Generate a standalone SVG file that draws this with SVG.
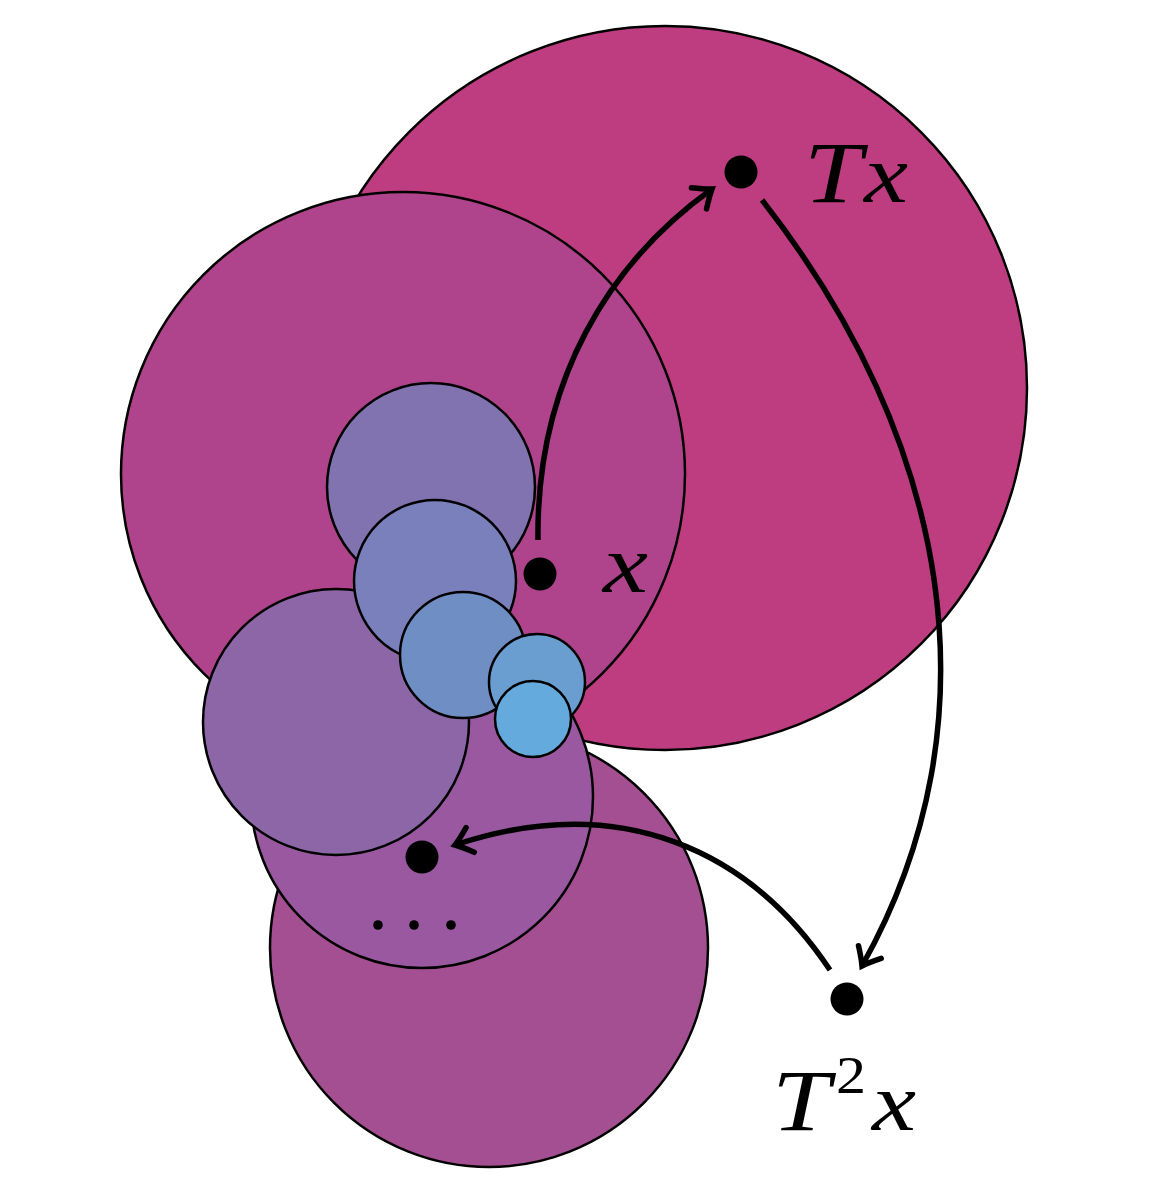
<svg xmlns="http://www.w3.org/2000/svg" width="1166" height="1202" viewBox="0 0 1166 1202">
<style>
.c{stroke:#000;stroke-width:2.5}
.dot{fill:#000}
.arr{fill:none;stroke:#000;stroke-width:5.5;marker-end:url(#ah)}
.lbl{font-family:"Liberation Serif","DejaVu Serif",serif;font-style:italic;fill:#000}
.num{font-family:"Liberation Serif","DejaVu Serif",serif;fill:#000}
</style>
<defs>
<marker id="ah" markerUnits="userSpaceOnUse" orient="auto" markerWidth="40" markerHeight="40" refX="0" refY="0" viewBox="-30 -20 40 40" overflow="visible">
<path d="M-16,-13 Q-6,-4 0,0 Q-6,4 -16,13" fill="none" stroke="#000" stroke-width="5.5" stroke-linecap="round"/>
</marker>
</defs>
<rect width="1166" height="1202" fill="#fff"/>
<g id="balls">
<circle id="b1" class="c" cx="665" cy="388" r="362" fill="#BE3C80"/>
<circle id="b2" class="c" cx="403" cy="474" r="282" fill="#B0448C"/>
<circle id="b3" class="c" cx="489" cy="948" r="219" fill="#A54F93"/>
<circle id="b4" class="c" cx="422" cy="797" r="171" fill="#9A58A0"/>
<circle id="b5" class="c" cx="336" cy="722" r="133" fill="#8C66A6"/>
<circle id="b6" class="c" cx="431" cy="487" r="104" fill="#8172B0"/>
<circle id="b7" class="c" cx="435" cy="581" r="81" fill="#7A80BC"/>
<circle id="b8" class="c" cx="463" cy="655" r="63" fill="#6F8EC4"/>
<circle id="b9" class="c" cx="537" cy="682" r="48" fill="#6A9ED0"/>
<circle id="b10" class="c" cx="533" cy="719" r="38" fill="#64AADC"/>
</g>
<g id="connectors">
<path class="arr" d="M538,540 C536,380 610,262 712,189"/>
<path class="arr" d="M762,200 C950,440 1000,720 862,966"/>
<path class="arr" d="M830,970 C750,850 620,790 455,845"/>
</g>
<g id="pt-x"><circle class="dot" cx="540" cy="574" r="16.5"/><text class="lbl" x="603" y="592" font-size="82" textLength="45" lengthAdjust="spacingAndGlyphs">x</text></g>
<g id="pt-Tx"><circle class="dot" cx="741" cy="172" r="16.5"/><text class="lbl" x="804" y="202" font-size="87" textLength="58" lengthAdjust="spacingAndGlyphs">T</text><text class="lbl" x="864" y="202" font-size="82" textLength="44" lengthAdjust="spacingAndGlyphs">x</text></g>
<g id="pt-T2x"><circle class="dot" cx="847" cy="999" r="16.5"/><text class="lbl" x="772" y="1130" font-size="87" textLength="58" lengthAdjust="spacingAndGlyphs">T</text><text class="num" x="836" y="1093" font-size="52" textLength="30" lengthAdjust="spacingAndGlyphs">2</text><text class="lbl" x="872" y="1130" font-size="82" textLength="44" lengthAdjust="spacingAndGlyphs">x</text></g>
<g id="pt-limit"><circle class="dot" cx="422" cy="857" r="16.5"/></g>
<g id="ellipsis"><circle class="dot" cx="378" cy="925" r="4.8"/><circle class="dot" cx="414" cy="925" r="4.8"/><circle class="dot" cx="451" cy="925" r="4.8"/></g>
</svg>
